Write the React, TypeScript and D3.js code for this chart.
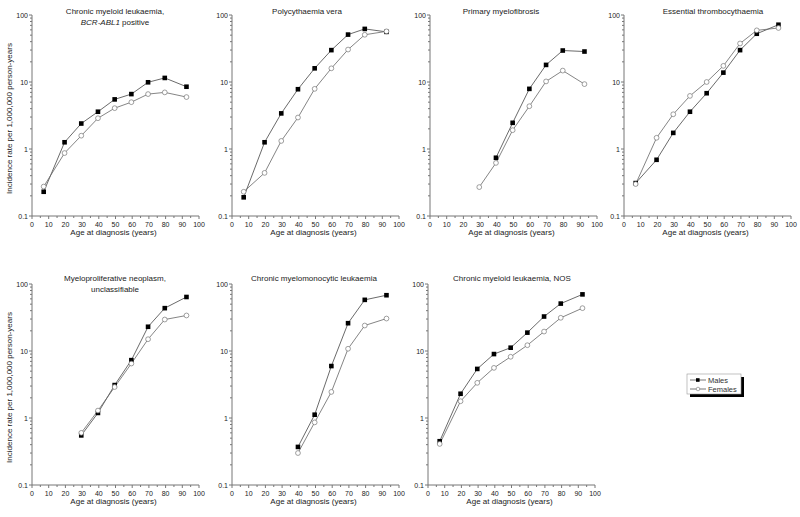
import React from "react";
import * as d3 from "d3";

const ages = [7, 19.5, 29.5, 39.5, 49.5, 59.5, 69.5, 79.5, 92.5];

const titles: string[][] = [
  ["Chronic myeloid leukaemia,", "BCR-ABL1| positive"],
  ["Polycythaemia vera"],
  ["Primary myelofibrosis"],
  ["Essential thrombocythaemia"],
  ["Myeloproliferative neoplasm,", "unclassifiable"],
  ["Chronic myelomonocytic leukaemia"],
  ["Chronic myeloid leukaemia, NOS"],
];

// null = no data for that age group
const malesCML = [0.23, 1.26, 2.4, 3.6, 5.5, 6.6, 9.9, 11.5, 8.5];
const femalesCML = [0.275, 0.87, 1.58, 2.88, 4.07, 5.0, 6.6, 7.0, 5.96];
const malesPV = [0.19, 1.26, 3.4, 7.8, 16, 29.9, 51, 62, 56];
const femalesPV = [0.23, 0.44, 1.32, 2.95, 7.9, 16, 30.5, 50.7, 57];
const malesPMF = [null, null, null, 0.74, 2.46, 7.9, 18, 29.5, 28.5];
const femalesPMF = [null, null, 0.27, 0.62, 1.91, 4.35, 10.2, 14.8, 9.3];
const malesET = [0.31, 0.69, 1.74, 3.6, 6.8, 13.8, 29.9, 52.5, 71.6];
const femalesET = [0.3, 1.47, 3.3, 6.2, 10, 17.4, 37.6, 59, 64];
const malesMPNU = [null, null, 0.55, 1.19, 3.1, 7.3, 23, 43.6, 64];
const femalesMPNU = [null, null, 0.6, 1.29, 2.9, 6.5, 15, 29.5, 33.9];
const malesCMML = [null, null, null, 0.37, 1.12, 5.96, 26, 58, 68];
const femalesCMML = [null, null, null, 0.3, 0.86, 2.45, 10.8, 24, 30.5];
const malesNOS = [0.45, 2.3, 5.4, 9.0, 11.2, 18.8, 32.7, 51, 70];
const femalesNOS = [0.41, 1.78, 3.35, 5.6, 8.2, 12.2, 19.5, 31.3, 43.6];

const males = [malesCML, malesPV, malesPMF, malesET, malesMPNU, malesCMML, malesNOS];
const females = [femalesCML, femalesPV, femalesPMF, femalesET, femalesMPNU, femalesCMML, femalesNOS];

const xTicks = [0, 10, 20, 30, 40, 50, 60, 70, 80, 90, 100];
const yTicks = [0.1, 1, 10, 100];
const yTickLabels = ["0.1", "1", "10", "100"];
const legendLabels = ["Males", "Females"];

const FONT = "'Liberation Sans', Arial, sans-serif";

const layout = [
  { x0: 32, top: 15, titleX: 115, titleDy: -1, ylabel: true },
  { x0: 232, top: 15, titleX: 307, titleDy: -1, ylabel: false },
  { x0: 430, top: 15, titleX: 501, titleDy: -1, ylabel: false },
  { x0: 624, top: 15, titleX: 713, titleDy: -1, ylabel: false },
  { x0: 32, top: 284, titleX: 115, titleDy: -3, ylabel: true },
  { x0: 232, top: 284, titleX: 314, titleDy: -3, ylabel: false },
  { x0: 428, top: 284, titleX: 512, titleDy: -3, ylabel: false },
];

const W = 167;
const H = 201;

function Panel({ i }: { i: number }) {
  const L = layout[i];
  const x = d3.scaleLinear().domain([0, 100]).range([L.x0, L.x0 + W]);
  const y = d3.scaleLog().domain([0.1, 100]).range([L.top + H, L.top]);
  const minorX = d3.range(5, 100, 10);
  const minorY: number[] = [];
  [0.1, 1, 10].forEach((d) => {
    for (let k = 2; k <= 9; k++) minorY.push(d * k);
  });
  const axisColor = "#777";
  const textColor = "#222";
  const line = d3
    .line<[number, number | null]>()
    .defined((d) => d[1] != null)
    .x((d) => x(d[0]))
    .y((d) => y(d[1] as number));
  const mPts = ages.map((a, j) => [a, males[i][j]] as [number, number | null]);
  const fPts = ages.map((a, j) => [a, females[i][j]] as [number, number | null]);
  const t = titles[i];
  const yMid = (y(0.1) + y(100)) / 2;
  return (
    <g>
      {t.map((ln, k) => {
        const parts = ln.split("|");
        return (
          <text
            key={k}
            x={L.titleX}
            y={L.top + L.titleDy + k * 10.5}
            textAnchor="middle"
            fontSize={8}
            fontFamily={FONT}
            fill={textColor}
          >
            {parts.length > 1 ? (
              <>
                <tspan fontStyle="italic">{parts[0]}</tspan>
                <tspan>{parts[1]}</tspan>
              </>
            ) : (
              ln
            )}
          </text>
        );
      })}
      <line x1={x(0)} x2={x(0)} y1={y(100)} y2={y(0.1)} stroke={axisColor} strokeWidth={1} />
      <line x1={x(0)} x2={x(100)} y1={y(0.1)} y2={y(0.1)} stroke={axisColor} strokeWidth={1} />
      {xTicks.map((d) => (
        <g key={"xt" + d}>
          <line x1={x(d)} x2={x(d)} y1={y(0.1)} y2={y(0.1) + 3} stroke={axisColor} />
          <text x={x(d)} y={y(0.1) + 11} textAnchor="middle" fontSize={7} fontFamily={FONT} fill={textColor}>
            {d}
          </text>
        </g>
      ))}
      {minorX.map((d) => (
        <line key={"xm" + d} x1={x(d)} x2={x(d)} y1={y(0.1)} y2={y(0.1) + 2} stroke={axisColor} />
      ))}
      {yTicks.map((d, k) => (
        <g key={"yt" + d}>
          <line x1={x(0) - 3} x2={x(0)} y1={y(d)} y2={y(d)} stroke={axisColor} />
          <text x={x(0) - 4} y={y(d) + 2.5} textAnchor="end" fontSize={7} fontFamily={FONT} fill={textColor}>
            {yTickLabels[k]}
          </text>
        </g>
      ))}
      {minorY.map((d) => (
        <line key={"ym" + d} x1={x(0) - 2} x2={x(0)} y1={y(d)} y2={y(d)} stroke={axisColor} />
      ))}
      {L.ylabel && (
        <text
          transform={`translate(${L.x0 - 20},${yMid + 3}) rotate(-90)`}
          textAnchor="middle"
          fontSize={8}
          fontFamily={FONT}
          fill={textColor}
        >
          Incidence rate per 1,000,000 person-years
        </text>
      )}
      <text
        x={x(50) - 2}
        y={y(0.1) + 19}
        textAnchor="middle"
        fontSize={8}
        fontFamily={FONT}
        fill={textColor}
      >
        Age at diagnosis (years)
      </text>
      <path d={line(mPts) || ""} fill="none" stroke="#444" strokeWidth={0.8} />
      <path d={line(fPts) || ""} fill="none" stroke="#666" strokeWidth={0.8} />
      {mPts
        .filter((p) => p[1] != null)
        .map((p, k) => (
          <rect key={"m" + k} x={x(p[0]) - 2.3} y={y(p[1] as number) - 2.3} width={4.6} height={4.6} fill="#000" />
        ))}
      {fPts
        .filter((p) => p[1] != null)
        .map((p, k) => (
          <circle key={"f" + k} cx={x(p[0])} cy={y(p[1] as number)} r={2.4} fill="#fff" stroke="#777" strokeWidth={0.7} />
        ))}
    </g>
  );
}

function Legend() {
  const lx = 687;
  const ly = 374;
  const w = 54;
  const h = 20;
  return (
    <g>
      <rect x={lx + 3} y={ly + 3} width={w} height={h} fill="#000" />
      <rect x={lx} y={ly} width={w} height={h} fill="#fff" stroke="#999" strokeWidth={0.6} />
      {legendLabels.map((lab, k) => {
        const yy = ly + 6 + k * 9;
        return (
          <g key={lab}>
            <line x1={lx + 3} x2={lx + 19} y1={yy} y2={yy} stroke="#555" strokeWidth={0.8} />
            {k === 0 ? (
              <rect x={lx + 9} y={yy - 1.8} width={3.6} height={3.6} fill="#000" />
            ) : (
              <circle cx={lx + 11} cy={yy} r={1.8} fill="#fff" stroke="#777" strokeWidth={0.6} />
            )}
            <text x={lx + 21} y={yy + 2.5} fontSize={7.5} fontFamily={FONT} fill="#333">
              {lab}
            </text>
          </g>
        );
      })}
    </g>
  );
}

export default function App() {
  return (
    <div style={{ position: "fixed", left: 0, top: 0 }}>
      <svg width={800} height={517} style={{ display: "block", background: "#fff" }}>
        <rect width={800} height={517} fill="#fff" />
        {layout.map((_, i) => (
          <Panel key={i} i={i} />
        ))}
        <Legend />
      </svg>
    </div>
  );
}
